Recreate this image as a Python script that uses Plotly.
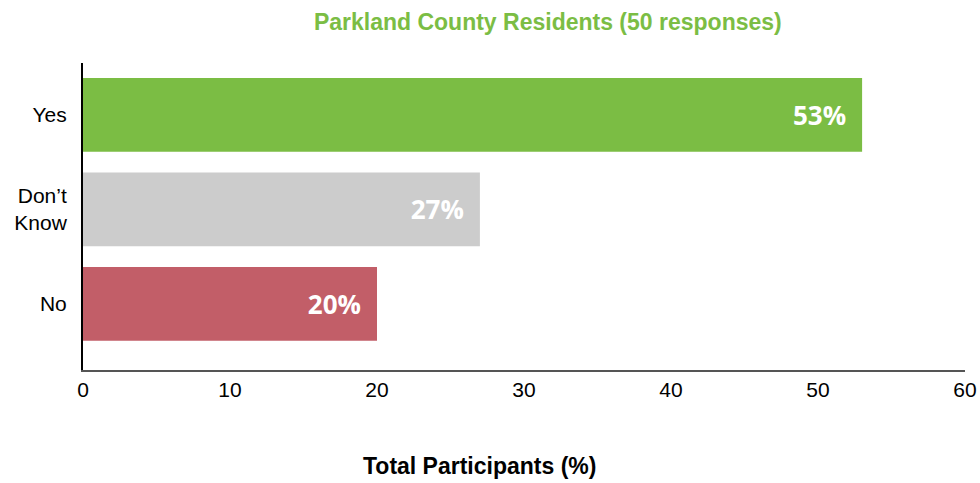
import plotly.graph_objects as go

categories = ["No", "Don’t<br>Know", "Yes"]
values = [20, 27, 53]
labels = ["20%", "27%", "53%"]
colors = ["#C25E68", "#CCCCCC", "#7BBD44"]
x_ticks = [0, 10, 20, 30, 40, 50, 60]

fig = go.Figure(go.Bar(
    y=categories, x=values, orientation="h",
    marker=dict(color=colors, line=dict(width=0)),
    text=labels, textposition="inside", insidetextanchor="end",
    texttemplate="%{text}\u2002",
    textfont=dict(family="Open Sans", size=26, color="white", weight="bold"),
    width=0.78, cliponaxis=False,
))

fig.update_layout(
    width=980, height=483,
    margin=dict(l=83, r=15, t=63, b=113),
    plot_bgcolor="white", paper_bgcolor="white",
    showlegend=False,
    title=dict(text="<b>Parkland County Residents (50 responses)</b>",
               x=0.559, xanchor="center", y=0.954, yanchor="middle",
               font=dict(family="Liberation Sans", size=23, color="#7BBD44")),
    xaxis=dict(range=[0, 60], tickvals=x_ticks, showgrid=False, zeroline=False,
               showline=True, linecolor="#555555", linewidth=2,
               ticks="", ticklen=0, automargin=False,
               tickfont=dict(family="Liberation Sans", size=21, color="black")),
    yaxis=dict(range=[-0.7, 2.55], showgrid=False, zeroline=False,
               showline=True, linecolor="black", linewidth=2,
               ticks="", ticklabelstandoff=10, automargin=False,
               tickfont=dict(family="Liberation Sans", size=21, color="black")),
    annotations=[dict(text="<b>Total Participants (%)</b>", xref="paper", yref="paper",
                      x=0.450, y=-0.313, xanchor="center", yanchor="middle", showarrow=False,
                      font=dict(family="Liberation Sans", size=23, color="black"))],
)

fig.write_html("out.html", config={"displayModeBar": False},
               post_script="document.body.style.margin='0';document.body.style.overflow='hidden';")
